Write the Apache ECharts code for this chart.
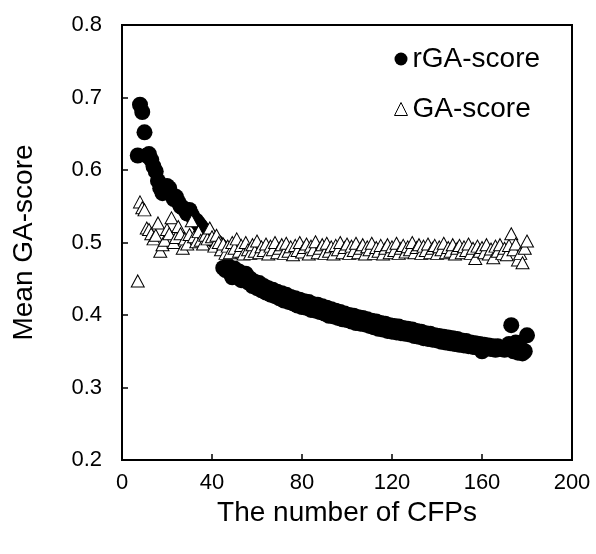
<!DOCTYPE html>
<html>
<head>
<meta charset="UTF-8">
<script src="https://cdn.jsdelivr.net/npm/echarts@6/dist/echarts.min.js"></script>
<style>
  html, body { margin: 0; padding: 0; background: #fff; }
  #chart { width: 596px; height: 554px; }
</style>
</head>
<body>
<div id="chart"></div>
<script>
// number of CFPs (x)
var cfps = [
  7, 8, 9, 10, 11, 12, 13, 14, 15, 16, 17, 18, 19, 20, 21, 22, 23, 24, 25, 26,
  27, 28, 29, 30, 31, 32, 33, 34, 35, 36, 37, 38, 39, 40, 41, 42, 43, 44, 45, 46,
  47, 48, 49, 50, 51, 52, 53, 54, 55, 56, 57, 58, 59, 60, 61, 62, 63, 64, 65, 66,
  67, 68, 69, 70, 71, 72, 73, 74, 75, 76, 77, 78, 79, 80, 81, 82, 83, 84, 85, 86,
  87, 88, 89, 90, 91, 92, 93, 94, 95, 96, 97, 98, 99, 100, 101, 102, 103, 104, 105, 106,
  107, 108, 109, 110, 111, 112, 113, 114, 115, 116, 117, 118, 119, 120, 121, 122, 123, 124, 125, 126,
  127, 128, 129, 130, 131, 132, 133, 134, 135, 136, 137, 138, 139, 140, 141, 142, 143, 144, 145, 146,
  147, 148, 149, 150, 151, 152, 153, 154, 155, 156, 157, 158, 159, 160, 161, 162, 163, 164, 165, 166,
  167, 168, 169, 170, 171, 172, 173, 174, 175, 176, 177, 178, 179, 180
];

// rGA-score (filled circles)
var rgaScore = [
  .620, .690, .680, .652, .620, .622, .614, .605, .598, .585, .575, .568, .572, .578, .575, .566, .560, .563, .556, .550,
  .548, .545, .540, .545, .538, .532, .530, .526, .522, .518, .515, .512, .508, .505, .503, .500, .497, .494, .465, .462,
  .468, .458, .452, .464, .455, .460, .448, .453, .457, .445, .450, .440, .446, .437, .444, .434, .440, .431, .437, .428,
  .435, .426, .432, .423, .430, .420, .428, .418, .425, .416, .423, .413, .421, .411, .419, .410, .418, .407, .415, .406,
  .414, .404, .412, .402, .410, .399, .408, .398, .406, .396, .404, .394, .402, .393, .400, .391, .399, .389, .397, .388,
  .396, .387, .394, .385, .392, .383, .391, .381, .389, .380, .388, .378, .386, .377, .385, .376, .384, .375, .382, .374,
  .381, .373, .380, .371, .378, .370, .377, .368, .375, .367, .374, .366, .372, .365, .371, .363, .370, .362, .369, .361,
  .368, .360, .367, .359, .365, .358, .364, .357, .362, .356, .361, .355, .360, .350, .359, .354, .358, .353, .357, .352,
  .357, .353, .355, .352, .356, .360, .386, .350, .362, .348, .355, .347, .350, .372
];

// GA-score (open triangles)
var gaScore = [
  .447, .556, .548, .545, .520, .518, .512, .505, .510, .527, .488, .497, .503, .518, .512, .534, .500, .507, .522, .512,
  .492, .505, .498, .511, .530, .508, .501, .515, .503, .498, .510, .505, .520, .508, .495, .510, .500, .490, .498, .485,
  .495, .486, .500, .492, .505, .488, .496, .484, .500, .490, .485, .497, .488, .502, .486, .494, .489, .498, .484, .495,
  .490, .500, .486, .492, .497, .485, .499, .488, .494, .483, .496, .489, .500, .487, .493, .498, .484, .495, .490, .501,
  .486, .492, .497, .485, .499, .488, .494, .484, .496, .490, .500, .486, .493, .498, .485, .495, .489, .499, .486, .492,
  .497, .484, .494, .490, .499, .485, .493, .488, .496, .484, .492, .497, .486, .494, .489, .499, .485, .492, .496, .487,
  .494, .490, .500, .486, .493, .497, .485, .495, .489, .498, .486, .492, .496, .485, .494, .490, .499, .486, .493, .488,
  .497, .484, .492, .496, .486, .494, .489, .498, .485, .492, .478, .495, .488, .493, .486, .497, .484, .491, .479, .495,
  .488, .497, .485, .492, .483, .496, .512, .490, .498, .476, .485, .472, .492, .502
];

var xTicks = [0, 40, 80, 120, 160, 200];
var yTicks = [0.2, 0.3, 0.4, 0.5, 0.6, 0.7, 0.8];

function pairs(ys) {
  return cfps.map(function (x, i) { return [x, ys[i]]; });
}

var font = '"Liberation Sans", Arial, Helvetica, sans-serif';
var chart = echarts.init(document.getElementById('chart'));
chart.setOption({
  animation: false,
  backgroundColor: '#fff',
  grid: {
    left: 122, top: 25, right: 24, bottom: 94,
    show: true, borderColor: '#000', borderWidth: 2, backgroundColor: 'transparent'
  },
  legend: {
    orient: 'vertical',
    left: 389, top: 40,
    itemGap: 22,
    itemWidth: 13, itemHeight: 13,
    textStyle: { fontFamily: font, fontSize: 28, color: '#000' },
    data: [
      { name: 'rGA-score', icon: 'circle' },
      { name: 'GA-score', icon: 'triangle', itemStyle: { color: '#fff', borderColor: '#000', borderWidth: 1 } }
    ]
  },
  xAxis: {
    type: 'value', min: xTicks[0], max: xTicks[xTicks.length - 1], interval: 40,
    name: 'The number of CFPs', nameLocation: 'middle', nameGap: 38,
    nameTextStyle: { fontFamily: font, fontSize: 28, color: '#000' },
    axisLine: { lineStyle: { color: '#000', width: 2 } },
    axisTick: { inside: true, length: 6, lineStyle: { color: '#000', width: 1.5 } },
    axisLabel: { fontFamily: font, fontSize: 22, color: '#000', margin: 12 },
    splitLine: { show: false }
  },
  yAxis: {
    type: 'value', min: yTicks[0], max: yTicks[yTicks.length - 1], interval: 0.1,
    name: 'Mean GA-score', nameLocation: 'middle', nameGap: 84,
    nameTextStyle: { fontFamily: font, fontSize: 28, color: '#000' },
    axisLine: { lineStyle: { color: '#000', width: 2 } },
    axisTick: { inside: true, length: 6, lineStyle: { color: '#000', width: 1.5 } },
    axisLabel: { fontFamily: font, fontSize: 22, color: '#000', margin: 20,
      formatter: function (v) { return v.toFixed(1); } },
    splitLine: { show: false }
  },
  series: [
    {
      name: 'rGA-score', type: 'scatter', symbol: 'circle', symbolSize: 16,
      itemStyle: { color: '#000', opacity: 1 },
      data: pairs(rgaScore)
    },
    {
      name: 'GA-score', type: 'scatter', symbol: 'triangle', symbolSize: [13, 12],
      itemStyle: { color: '#fff', borderColor: '#000', borderWidth: 1, opacity: 1 },
      data: pairs(gaScore)
    }
  ]
});
</script>
</body>
</html>
